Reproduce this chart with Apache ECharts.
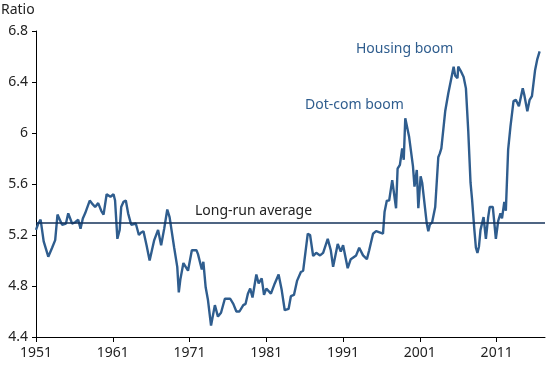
<!DOCTYPE html>
<html>
<head>
<meta charset="utf-8">
<script src="https://cdn.jsdelivr.net/npm/echarts@6/dist/echarts.min.js"></script>
<style>
html,body{margin:0;padding:0;background:#fff;}
#chart{width:550px;height:365px;}
</style>
</head>
<body>
<div id="chart"></div>
<script>
const years = [
1951.0,1951.3,1951.6,1952.0,1952.6,1953.1,1953.5,1953.8,1954.1,1954.4,1954.9,1955.2,1955.7,1956.1,1956.5,1956.8,
1957.1,1957.4,1958.0,1958.4,1958.7,1959.1,1959.5,1959.8,1960.2,1960.7,1961.1,1961.3,1961.6,1961.9,1962.1,1962.4,
1962.7,1963.0,1963.4,1964.0,1964.4,1964.7,1965.0,1965.4,1965.8,1966.1,1966.4,1966.9,1967.3,1967.7,1968.1,1968.4,
1969.0,1969.4,1969.6,1969.8,1970.2,1970.8,1971.3,1971.9,1972.1,1972.6,1972.8,1973.1,1973.4,1973.8,1974.0,1974.3,
1974.7,1975.1,1975.6,1976.3,1976.7,1977.1,1977.5,1978.0,1978.3,1978.6,1978.9,1979.2,1979.7,1980.0,1980.4,1980.7,
1981.0,1981.6,1982.1,1982.6,1983.0,1983.4,1983.9,1984.2,1984.6,1985.0,1985.5,1985.8,1986.4,1986.7,1987.1,1987.5,
1988.0,1988.4,1989.0,1989.4,1989.7,1990.3,1990.7,1991.0,1991.6,1992.0,1992.7,1993.1,1993.6,1994.1,1994.4,1994.9,
1995.3,1996.2,1996.4,1996.7,1997.0,1997.4,1997.6,1997.9,1998.1,1998.4,1998.7,1998.9,1999.1,1999.3,1999.6,1999.8,
2000.1,2000.3,2000.6,2000.8,2001.1,2001.3,2001.9,2002.1,2002.3,2002.6,2003.0,2003.4,2003.6,2003.8,2004.3,2004.7,
2005.1,2005.4,2005.6,2005.9,2006.0,2006.3,2006.7,2007.0,2007.3,2007.6,2007.8,2008.1,2008.3,2008.5,2008.7,2008.9,
2009.3,2009.6,2009.9,2010.1,2010.5,2010.9,2011.2,2011.5,2011.7,2012.0,2012.2,2012.5,2012.8,2013.2,2013.5,2013.9,
2014.4,2014.6,2015.0,2015.3,2015.6,2016.0,2016.3,2016.6
];
const ratio = [
5.24,5.29,5.32,5.15,5.03,5.10,5.16,5.36,5.32,5.28,5.29,5.37,5.29,5.30,5.32,5.25,
5.33,5.37,5.47,5.44,5.42,5.45,5.39,5.36,5.52,5.50,5.52,5.47,5.17,5.24,5.42,5.46,
5.47,5.37,5.28,5.29,5.20,5.22,5.23,5.12,5.00,5.08,5.16,5.24,5.12,5.25,5.40,5.34,
5.10,4.95,4.75,4.85,4.98,4.92,5.08,5.08,5.05,4.93,4.99,4.79,4.69,4.49,4.50,4.65,
4.56,4.59,4.70,4.70,4.66,4.60,4.60,4.65,4.66,4.74,4.78,4.71,4.89,4.82,4.86,4.73,
4.78,4.74,4.82,4.89,4.77,4.61,4.62,4.72,4.73,4.84,4.91,4.92,5.21,5.20,5.035,5.06,
5.04,5.06,5.17,5.08,4.95,5.13,5.07,5.12,4.94,5.01,5.04,5.10,5.04,5.01,5.08,5.21,
5.23,5.21,5.38,5.47,5.47,5.63,5.63,5.41,5.72,5.75,5.88,5.79,6.115,6.115,5.97,5.96,
5.74,5.58,5.71,5.41,5.66,5.61,5.29,5.23,5.28,5.30,5.42,5.81,5.84,5.88,6.17,6.31,
6.43,6.52,6.45,6.43,6.52,6.49,6.44,6.35,6.02,5.61,5.48,5.24,5.10,5.06,5.11,5.24,
5.34,5.17,5.34,5.42,5.42,5.17,5.31,5.37,5.33,5.46,5.39,5.87,6.05,6.25,6.26,6.21,
6.35,6.30,6.17,6.26,6.29,6.49,6.58,6.64
];
const longRunAverage = 5.3;
const xTickYears = [1951,1961,1971,1981,1991,2001,2011];
const yTicks = [4.4,4.8,5.2,5.6,6,6.4,6.8];
const startYear = 1951;
const endYear = 2017.3;

const chart = echarts.init(document.getElementById('chart'), null, {renderer:'canvas'});
const FONT = 'Noto Sans';
const offsets = xTickYears.map(y => y - startYear);

chart.setOption({
  animation: false,
  grid: {left: 36, right: 5, top: 31, bottom: 28, containLabel: false},
  xAxis: {
    type: 'value',
    min: 0,
    max: endYear - startYear,
    interval: 10,
    axisLine: {show: true, lineStyle: {color: '#000', width: 1}},
    axisTick: {show: true, length: 5, lineStyle: {color: '#000'}, customValues: offsets},
    axisLabel: {
      customValues: offsets,
      formatter: v => String(Math.round(v + startYear)),
      color: '#222', fontFamily: FONT, fontSize: 14, margin: 9
    },
    splitLine: {show: false}
  },
  yAxis: {
    type: 'value',
    min: yTicks[0],
    max: yTicks[yTicks.length - 1],
    interval: 0.4,
    axisLine: {show: true, lineStyle: {color: '#000', width: 1}},
    axisTick: {show: true, length: 4, lineStyle: {color: '#000'}},
    axisLabel: {
      formatter: v => String(parseFloat(v.toFixed(1))),
      color: '#222', fontFamily: FONT, fontSize: 14, margin: 8
    },
    splitLine: {show: false}
  },
  series: [{
    type: 'line',
    data: years.map((y, i) => [y - startYear, ratio[i]]),
    showSymbol: false,
    lineStyle: {color: '#2f5d8e', width: 2.4},
    z: 3,
    markLine: {
      silent: true,
      symbol: 'none',
      label: {show: false},
      lineStyle: {color: '#14325a', width: 1.5, type: 'solid'},
      data: [{yAxis: longRunAverage}]
    }
  }],
  graphic: [
    {type: 'text', left: 1, top: 3, style: {text: 'Ratio', fontFamily: FONT, fontSize: 14, fill: '#222'}},
    {type: 'text', left: 356, top: 42, style: {text: 'Housing boom', fontFamily: FONT, fontSize: 14, fill: '#2f5d8e'}},
    {type: 'text', left: 305, top: 98, style: {text: 'Dot-com boom', fontFamily: FONT, fontSize: 14, fill: '#2f5d8e'}},
    {type: 'text', left: 195, top: 204, style: {text: 'Long-run average', fontFamily: FONT, fontSize: 14, fill: '#222'}}
  ]
});
</script>
</body>
</html>
